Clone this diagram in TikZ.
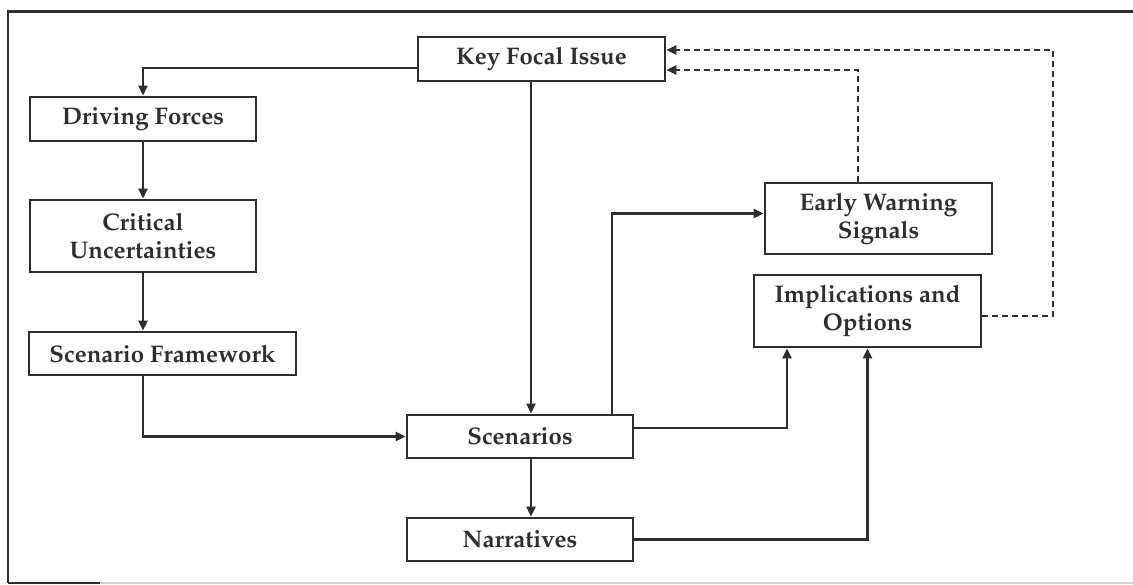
\documentclass[tikz,border=0pt]{standalone}
\usepackage[T1]{fontenc}
\usepackage{mathpazo}
\usetikzlibrary{arrows.meta,calc}
\definecolor{ink}{HTML}{2E2E2E}
\begin{document}
\begin{tikzpicture}[x=0.5pt,y=-0.5pt,
  box/.style={draw=ink, line width=1.4pt, align=center, text=ink,
    font=\bfseries\fontsize{12}{14}\selectfont, inner sep=0pt},
  link/.style={draw=ink, line width=1.15pt, -{Triangle[length=5pt,width=4.5pt]}},
  back/.style={link, dash pattern=on 3pt off 2pt}]
\useasboundingbox (0,0) rectangle (1133,584);

% frame
\draw[ink, line width=1.4pt] (8,583) -- (8,11.5) -- (1133,11.5);
\draw[ink, line width=1pt] (8,582.5) -- (100,582.5);
\draw[gray!35, line width=1pt] (100,582.5) -- (1133,582.5);

% boxes
\node[box, minimum width=123.5pt, minimum height=22pt] (kfi) at (541.5,59) {Key Focal Issue};
\node[box, minimum width=113pt, minimum height=22pt] (df) at (143,119) {Driving Forces};
\node[box, minimum width=113pt, minimum height=36pt] (cu) at (143,236) {Critical\\Uncertainties};
\node[box, minimum width=133.5pt, minimum height=21.5pt] (sf) at (162.5,353.5) {Scenario Framework};
\node[box, minimum width=113pt, minimum height=21.5pt] (sc) at (520,436.5) {Scenarios};
\node[box, minimum width=113pt, minimum height=21.5pt] (nar) at (520,539.5) {Narratives};
\node[box, minimum width=113.5pt, minimum height=35.5pt] (ews) at (878.5,218.5) {Early Warning\\Signals};
\node[box, minimum width=113.5pt, minimum height=36pt] (io) at (867.5,311) {Implications and\\Options};

% routing columns
\coordinate (vx) at (531,0);
\coordinate (ux) at (612,0);
\coordinate (ix) at (787,0);
\coordinate (dx) at (858,0);
\coordinate (rc) at (1053,50);

% connectors
\draw[link] ($(kfi.west)+(0,9)$) -| (df.north);
\draw[link] (kfi.south -| vx) -- (sc.north -| vx);
\draw[link] (df) -- (cu);
\draw[link] (cu.south) -- (cu.south |- sf.north);
\draw[link] (sf.south -| cu.south) |- (sc.west);
\draw[link] (sc.south -| vx) -- (nar.north -| vx);
\draw[link] (sc.north -| ux) |- ($(ews.west)+(0,-5)$);
\draw[link] ($(sc.east)+(0,-8.5)$) -| (io.south -| ix);
\draw[link] (nar.east) -| (io.south);

% feedback loops
\draw[back] (ews.north -| dx) |- ($(kfi.east)+(0,11)$);
\draw[back] ($(io.east)+(0,5)$) -| (rc) -- (kfi.east |- rc);
\end{tikzpicture}
\end{document}
